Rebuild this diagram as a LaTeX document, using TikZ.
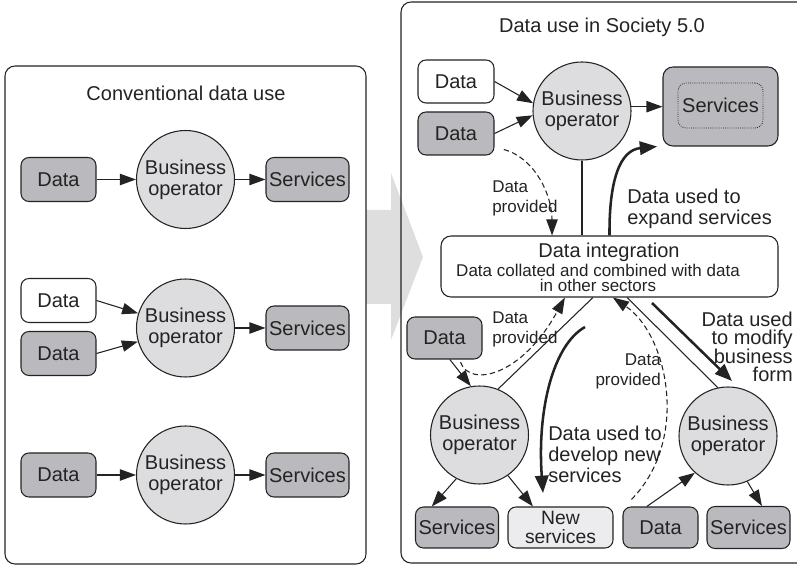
\documentclass[tikz,border=0pt]{standalone}
\usepackage{fontspec}
\setmainfont{Liberation Sans}
\usetikzlibrary{arrows.meta,calc}
\definecolor{boxgray}{RGB}{186,186,190}
\definecolor{opgray}{RGB}{221,221,223}
\definecolor{newgray}{RGB}{236,236,238}
\definecolor{shiftgray}{RGB}{222,222,222}
\definecolor{inkgray}{RGB}{35,35,35}
\newcommand{\bigtxt}{\fontsize{15}{15.75}\selectfont}
\newcommand{\smalltxt}{\fontsize{12.75}{15}\selectfont}
\newcommand{\newsvtxt}{\fontsize{14.5}{14}\selectfont\lineskiplimit=-5pt\relax}
\newcommand{\modifytxt}{\fontsize{15}{13.9}\selectfont\lineskiplimit=-5pt\relax}

\begin{document}
\begin{tikzpicture}[x=0.75pt,y=-0.75pt,
  font=\bigtxt,
  every node/.style={text=inkgray},
  databox/.style={draw=inkgray, line width=0.8pt, rounded corners=6pt, fill=boxgray,
    minimum width=56.25pt, minimum height=33pt, inner sep=0pt},
  rawbox/.style={databox, fill=white},
  servbox/.style={databox, minimum width=62.25pt},
  operator/.style={circle, draw=inkgray, line width=0.8pt, fill=opgray,
    minimum size=73.5pt, inner sep=0pt, align=center},
  note/.style={inner sep=0pt},
  plain/.style={line width=0.8pt, draw=inkgray},
  link/.style={plain, -{Triangle[length=12pt,width=8.5pt]}},
  provided/.style={link, dash pattern=on 4pt off 2.5pt},
  usage/.style={line width=1.9pt, draw=inkgray, -{Triangle[length=13pt,width=10pt]}},
]
  \useasboundingbox (0,0) rectangle (797,566);
  \clip (0,0) rectangle (797,566);

  % Shift arrow between the panels
  \fill[shiftgray] (366,210) -- (391,210) -- (391,173) -- (423,257) -- (391,340) -- (391,304) -- (366,304) -- cycle;

  % Panels
  \draw[plain, rounded corners=7.5pt] (5,66) rectangle (366,564);
  \draw[plain, rounded corners=7.5pt] (401,2) rectangle (812,563);

  % Conventional data use
  \node (convtitle) at (186,93) {Conventional data use};

  \node[databox] (d1) at (58.5,179.5) {Data};
  \node[operator] (op1) at (185.5,179.5) {Business\\operator};
  \node[servbox] (s1) at (307.5,179.5) {Services};
  \draw[link] (d1) -- (op1);
  \draw[link] (op1) -- (s1);

  \node[rawbox] (d2w) at (58.5,300.5) {Data};
  \node[databox] (d2g) at (58.5,353.5) {Data};
  \node[operator] (op2) at (185.5,328) {Business\\operator};
  \node[servbox] (s2) at (307.5,328) {Services};
  \draw[link] (d2w.east) -- (op2);
  \draw[link] (d2g.east) -- (op2);
  \draw[link] (op2) -- (s2);

  \node[databox] (d3) at (58.5,475) {Data};
  \node[operator] (op3) at (185.5,475) {Business\\operator};
  \node[servbox] (s3) at (307.5,475) {Services};
  \draw[link] (d3) -- (op3);
  \draw[link] (op3) -- (s3);

  % Data use in Society 5.0
  \node (newtitle) at (602,27) {Data use in Society 5.0};

  \node[rawbox, minimum width=57pt, minimum height=32.25pt] (dtw) at (456,81.5) {Data};
  \node[databox, minimum width=57pt, minimum height=32.25pt] (dtg) at (456,133.5) {Data};
  \node[operator] (opt) at (582,111) {Business\\operator};
  \node[databox, minimum width=86.25pt, minimum height=59.25pt, rounded corners=7.5pt] (svt) at (720.5,106.5) {};
  \node[draw=inkgray, line width=0.6pt, densely dotted, rounded corners=6pt,
    minimum width=63.75pt, minimum height=33.75pt, inner sep=0pt] (svin) at (720.5,105.5) {Services};

  \node[draw=inkgray, line width=0.8pt, rounded corners=7.5pt, fill=white,
    minimum width=252.75pt, minimum height=45.75pt] (integ) at (609.5,266.5) {};
  \node[note] (integtitle) at (609,252) {Data integration};
  \node[note, font=\fontsize{12.75}{11.25}\selectfont, align=center] (integtext) at (598,277.5)
    {Data collated and combined with data\\in other sectors};

  \node[databox, minimum height=31.5pt] (dml) at (444.5,338) {Data};
  \node[operator] (opl) at (479.5,435) {Business\\operator};
  \node[operator] (opr) at (728,436) {Business\\operator};
  \node[servbox, minimum height=30.75pt] (svl) at (457,527.5) {Services};
  \node[databox, fill=newgray, minimum width=78.75pt, minimum height=30.75pt, align=center,
    font=\newsvtxt] (nsv) at (560.5,527.5) {New\\services};
  \node[databox, minimum height=30.75pt] (dbr) at (660.5,527.5) {Data};
  \node[servbox, minimum height=31.5pt] (svr) at (748.5,527.5) {Services};

  % Labels
  \node[note, font=\smalltxt, align=left, anchor=west] (provtop) at (492,198.5) {Data\\provided};
  \node[note, align=left, anchor=west] (expandlbl) at (627,208.5) {Data used to\\expand services};
  \node[note, font=\smalltxt, align=left, anchor=west] (provmid) at (492,329) {Data\\provided};
  \node[note, align=left, anchor=west] (developlbl) at (548,454.5) {Data used to\\develop new\\services};
  \node[note, font=\smalltxt, align=right, anchor=east] (provright) at (661,371.5) {Data\\provided};
  \node[note, align=right, anchor=east, font=\modifytxt] (modifylbl) at (793,347) {Data used\\to modify\\business\\form};

  % Top operator links
  \draw[link] (dtw.east) -- (opt.171);
  \draw[link] (dtg.east) -- (opt.185);
  \draw[link] (opt.5) -- (opt.5 -| svt.west);
  \draw[plain] (opt.south) -- (opt.south |- integ.north);
  \draw[provided] ([xshift=7pt,yshift=4.5pt]dtg.south east) .. controls (535,158) and (552,195) .. ($(integ.north west)!0.33!(integ.north east)$);
  \draw[usage] (integ.north) .. controls (609,180) and (620,150) .. ([xshift=-4pt]svt.south west);

  % Lower left operator links
  \draw[link] ([xshift=4pt]dml.south) -- (opl.100);
  \draw[plain] (opl.68) -- ($(integ.south west)!0.451!(integ.south east)$);
  \draw[provided] ([xshift=12pt,yshift=-2pt]dml.south) .. controls (470,388) and (522,376) .. ($(integ.south west)!0.368!(integ.south east)$);
  \draw[link] (opl.242) -- ($(svl.north west)!0.2!(svl.north east)$);
  \draw[link] (opl.305) -- ($(nsv.north west)!0.24!(nsv.north east)$);

  % Thick usage arrows below the integration box
  \coordinate (devstart) at (585,327);
  \coordinate (devend) at (543,493);
  \draw[usage] (devstart) .. controls (553,345) and (537,410) .. (devend);
  \coordinate (modstart) at (652,303);
  \coordinate (modend) at (732,381);
  \draw[usage] (modstart) -- (modend);

  % Lower right operator links
  \draw[plain] ($(integ.south west)!0.552!(integ.south east)$) -- (opr.102);
  \draw[link] ($(dbr.north west)!0.32!(dbr.north east)$) -- (opr.228);
  \draw[link] (opr.293) -- ($(svr.north west)!0.66!(svr.north east)$);
  \draw[provided] ([xshift=6.75pt,yshift=5.25pt]dbr.north west) .. controls (690,440) and (668,335) .. ($(integ.south west)!0.51!(integ.south east)$);
\end{tikzpicture}
\end{document}
